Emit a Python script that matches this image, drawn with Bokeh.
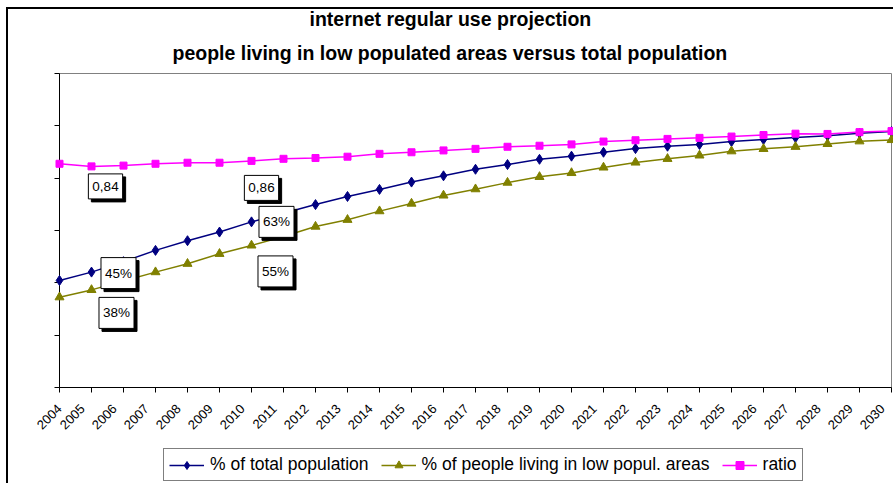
import math
from bokeh.plotting import figure
from bokeh.layouts import column
from bokeh.models import (Range1d, FixedTicker, Label, Legend, LegendItem, Title,
                          LinearAxis, CustomJSTickFormatter)
from bokeh.embed import file_html
from bokeh.resources import INLINE

# ---------------- data ----------------
years = list(range(2004, 2031))
total_pct = [0.409, 0.441, 0.481, 0.524, 0.561, 0.594, 0.633, 0.666, 0.699, 0.730,
             0.757, 0.785, 0.809, 0.834, 0.852, 0.872, 0.884, 0.899, 0.913, 0.922,
             0.929, 0.940, 0.948, 0.955, 0.962, 0.972, 0.978]
low_pct = [0.345, 0.373, 0.407, 0.441, 0.473, 0.511, 0.543, 0.577, 0.615, 0.641,
           0.674, 0.703, 0.734, 0.758, 0.783, 0.805, 0.820, 0.841, 0.860, 0.874,
           0.887, 0.903, 0.912, 0.920, 0.931, 0.941, 0.946]
ratio = [0.855, 0.845, 0.848, 0.855, 0.859, 0.859, 0.866, 0.874, 0.877, 0.882,
         0.893, 0.899, 0.906, 0.912, 0.920, 0.924, 0.929, 0.940, 0.945, 0.950,
         0.954, 0.959, 0.965, 0.970, 0.969, 0.976, 0.980]
y_ticks = [0, 0.2, 0.4, 0.6, 0.8, 1.0, 1.2]
title_lines = ["internet regular use projection",
               "people living in low populated areas versus total population"]
series_names = ["% of total population",
                "% of people living in low popul. areas",
                "ratio"]
label_series = ["ratio", "ratio", "total", "low", "total", "low"]
label_years = [2005, 2010, 2005, 2005, 2010, 2010]
label_texts = ["0,84", "0,86", "45%", "38%", "63%", "55%"]

# ---------------- styles / positions ----------------
FONT = "Liberation Sans"
label_offsets = [(14, 20), (10, 27), (27, 1), (25, 23), (25, 0), (24, 26)]  # px right, px down
LABEL_SHIFT = 0.28   # year labels sit a little left of their tick (first one stays inside)

W, H_CHART, H_LEG = 893, 445, 38
p = figure(width=W, height=H_CHART, x_range=Range1d(2004, 2030), y_range=Range1d(0, 1.2),
           output_backend="svg", toolbar_location=None, title=None,
           min_border_left=59, min_border_right=2, min_border_top=73,
           min_border_bottom=H_CHART - 387, background_fill_color="white",
           border_fill_color=None)
p.styles = {"box-shadow": "inset 6px 7px 0 0 white, inset 8px 9px 0 0 black"}

p.xgrid.visible = False
p.ygrid.visible = False
p.outline_line_color = "#808080"
p.outline_line_width = 1

# axis with the tick marks (labels empty)
xa = p.xaxis[0]
xa.ticker = FixedTicker(ticks=years)
xa.formatter = CustomJSTickFormatter(code="return ''")
xa.major_label_text_font_size = "1px"
xa.major_label_standoff = 0
xa.major_tick_in = 0
xa.major_tick_out = 5
xa.minor_tick_in = 0
xa.minor_tick_out = 0
xa.axis_line_color = "black"
xa.major_tick_line_color = "black"

# axis carrying the rotated year labels
label_ticks = [years[0]] + [y - LABEL_SHIFT for y in years[1:]]
xl = LinearAxis(ticker=FixedTicker(ticks=label_ticks),
                formatter=CustomJSTickFormatter(
                    code="return Math.round(tick + %s).toString()" % LABEL_SHIFT),
                major_label_orientation=math.pi / 4,
                major_label_text_font=FONT, major_label_text_font_size="13px",
                major_label_text_color="black", major_label_standoff=14,
                major_tick_in=0, major_tick_out=0, minor_tick_in=0, minor_tick_out=0,
                axis_line_color=None, major_tick_line_color=None)
p.add_layout(xl, "below")

ya = p.yaxis[0]
ya.ticker = FixedTicker(ticks=y_ticks)
ya.formatter = CustomJSTickFormatter(code="return ''")
ya.major_tick_in = 0
ya.major_tick_out = 5
ya.minor_tick_in = 0
ya.minor_tick_out = 0
ya.axis_line_color = "black"
ya.major_tick_line_color = "black"

series = {"total": total_pct, "low": low_pct, "ratio": ratio}
styles = [("total", "#000080", "diamond", 10),
          ("low", "#808000", "triangle", 9),
          ("ratio", "#FF00FF", "square", 7)]

for key, col, mk, sz in styles:
    p.line(years, series[key], line_color=col, line_width=1.5, level="annotation")
    p.scatter(years, series[key], marker=mk, size=sz, fill_color=col,
              line_color=col, level="annotation")

# title (two lines; first added sits nearest the plot)
p.add_layout(Title(text=title_lines[1], align="left", offset=113,
                   text_font=FONT, text_font_style="bold", text_font_size="19.5px",
                   text_line_height=1.0,
                   text_color="black", standoff=20, vertical_align="bottom"), "above")
p.add_layout(Title(text=title_lines[0], align="left", offset=250,
                   text_font=FONT, text_font_style="bold", text_font_size="19.5px",
                   text_line_height=1.0,
                   text_color="black", standoff=0, vertical_align="bottom"), "above")

# data labels with shadow
for key, yr, txt, (dx, dy) in zip(label_series, label_years, label_texts, label_offsets):
    val = series[key][years.index(yr)]
    common = dict(x=yr, y=val, text=txt, text_align="center", text_baseline="middle",
                  text_font=FONT, text_font_size="13.5px", padding=(4, 4, 8, 8),
                  border_line_width=1, level="overlay")
    p.add_layout(Label(x_offset=dx + 3, y_offset=-(dy + 3), text_color="black",
                       background_fill_color="black", border_line_color="black", **common))
    p.add_layout(Label(x_offset=dx, y_offset=-dy, text_color="black",
                       background_fill_color="white", border_line_color="black", **common))

# ---------------- legend strip ----------------
q = figure(width=W, height=H_LEG, x_range=Range1d(0, 1), y_range=Range1d(0, 1),
           output_backend="svg", toolbar_location=None, title=None,
           x_axis_type=None, y_axis_type=None,
           min_border_left=0, min_border_right=0, min_border_top=0, min_border_bottom=0,
           background_fill_color=None, border_fill_color=None, outline_line_color=None)
q.xgrid.visible = False
q.ygrid.visible = False
q.styles = {"box-shadow": "inset 6px 0 0 0 white, inset 8px 0 0 0 black"}

items = []
for (key, col, mk, sz), name in zip(styles, series_names):
    # same data as the chart; it lies outside this strip's ranges, only the legend glyph shows
    rl = q.line(years, series[key], line_color=col, line_width=1.5)
    rm = q.scatter(years, series[key], marker=mk, size=sz - 2, fill_color=col, line_color=col)
    items.append(LegendItem(label=name, renderers=[rl, rm]))

legend = Legend(items=items, orientation="horizontal", location=(104, 2),
                border_line_color="black", border_line_width=1,
                background_fill_color="white", background_fill_alpha=1,
                label_text_font=FONT, label_text_font_size="17.5px",
                label_text_color="black",
                glyph_width=35, glyph_height=20, label_standoff=6, spacing=12,
                padding=5, margin=0)
q.add_layout(legend)

open("out.html", "w").write(file_html(column(p, q, spacing=0), INLINE))
